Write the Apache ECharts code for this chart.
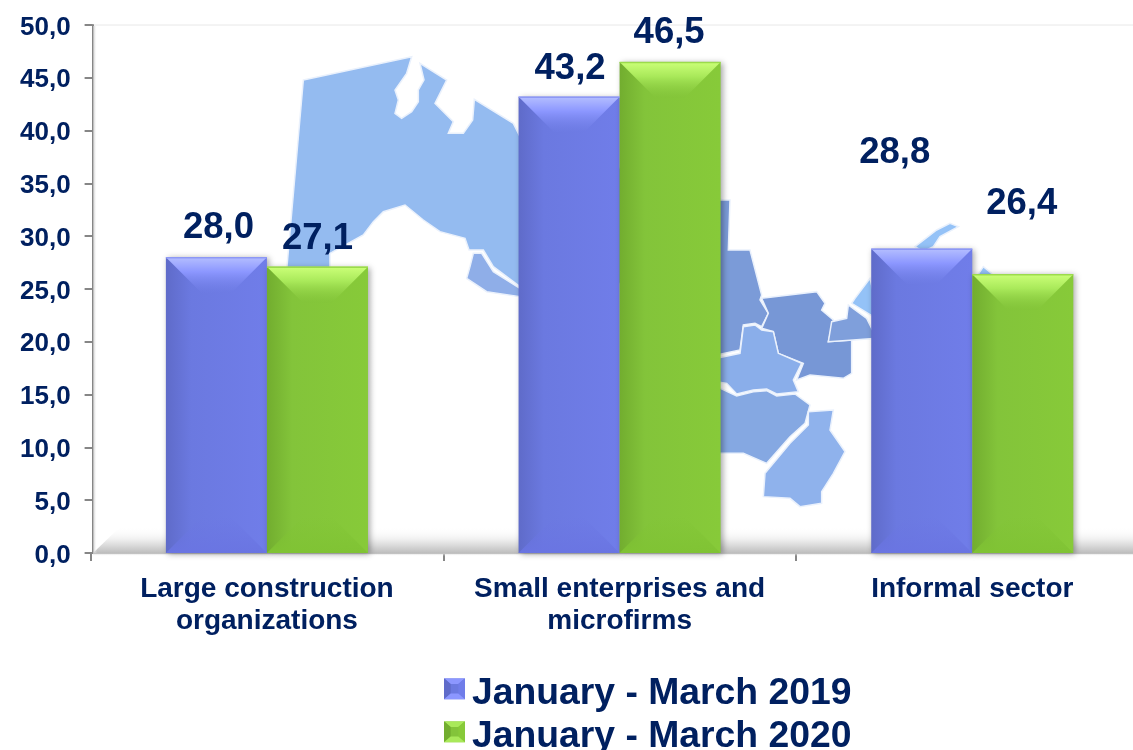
<!DOCTYPE html>
<html><head><meta charset="utf-8">
<style>html,body{margin:0;padding:0;background:#fff}#c{width:1133px;height:750px}</style>
<script src="https://cdn.jsdelivr.net/npm/echarts@6/dist/echarts.min.js"></script>
</head><body><div id="c"></div>
<script>
const categories = ['Large construction\norganizations', 'Small enterprises and\nmicrofirms', 'Informal sector'];
const seriesNames = ['January - March 2019', 'January - March 2020'];
const values2019 = [28.0, 43.2, 28.8];
const values2020 = [27.1, 46.5, 26.4];
const labelOffsets2019 = [[2, -6], [1, -4], [-27, -72]];
const labelOffsets2020 = [[0, -4], [-1, -6], [-1, -47]];

const NAVY = '#002060';
const FONT = '"Liberation Sans", Arial, sans-serif';
const BAR_RATIO = 0.2865;
const BEVEL = 36;

const blue = {left: '#5F6BC9', mid: '#6B79E0', right: '#707DE9', top1: '#B4BEFF', top2: '#8C97FF', top3: 'rgba(108,122,226,0.3)', edge: '#8D98F5', bot: '#6A75E2', bot0: 'rgba(106,117,226,0)', icon: '#8C97FF'};
const green = {left: '#72AD2F', mid: '#83C43A', right: '#87CA39', top1: '#CBFF78', top2: '#A9E95A', top3: 'rgba(130,195,57,0.3)', edge: '#9BDB4C', bot: '#80C334', bot0: 'rgba(128,195,52,0)', icon: '#A9E95A'};

function grad(x0, y0, x1, y1, stops) {
  return {type: 'linear', x: x0, y: y0, x2: x1, y2: y1,
    colorStops: stops.map(c => ({offset: c[0], color: c[1]}))};
}
function barFill(p) { return grad(0, 0, 1, 0, [[0, p.left], [0.25, p.mid], [1, p.right]]); }

function bevelRenderer(palette, side) {
  return function (params, api) {
    const top = api.coord([api.value(0), api.value(1)]);
    const base = api.coord([api.value(0), 0]);
    const w = api.size([1, 0])[0] * BAR_RATIO;
    const x0 = side < 0 ? top[0] - w : top[0];
    const x1 = x0 + w;
    const yT = top[1], yB = base[1];
    return {type: 'group', children: [
      {type: 'polygon', shape: {points: [[x0, yT], [x1, yT], [x1 - BEVEL, yT + BEVEL], [x0 + BEVEL, yT + BEVEL]]},
        style: {fill: grad(0, 0, 0, 1, [[0, palette.top1], [0.4, palette.top2], [1, palette.top3]])}},
      {type: 'polygon', shape: {points: [[x0, yB], [x1, yB], [x1 - BEVEL, yB - BEVEL], [x0 + BEVEL, yB - BEVEL]]},
        style: {fill: grad(0, 0, 0, 1, [[0, palette.bot0], [1, palette.bot]])}},
      {type: 'line', shape: {x1: x0, y1: yT + 0.5, x2: x1, y2: yT + 0.5}, style: {stroke: palette.edge, lineWidth: 1.5}}
    ]};
  };
}

function iconUri(p) {
  const svg = `<svg xmlns="http://www.w3.org/2000/svg" width="22" height="32" viewBox="0 0 22 32"><rect width="22" height="22" fill="${p.mid}"/>` +
    `<polygon points="0,0 22,0 15,6 7,6" fill="${p.icon}"/><polygon points="22,0 22,22 15,16 15,6" fill="${p.right}"/>` +
    `<polygon points="0,0 0,22 7,16 7,6" fill="${p.left}"/><polygon points="0,22 22,22 15,16 7,16" fill="${p.icon}"/></svg>`;
  return 'image://data:image/svg+xml;charset=utf-8,' + encodeURIComponent(svg);
}

const crop1 = pts => pts.map(([x, y]) => [280 + x / 3, 40 + y / 3]);
const crop2 = pts => pts.map(([x, y]) => [710 + x / 3, 190 + y / 3]);
const mapShapes = [
  ['#94BBF0', crop1([[70,120],[395,50],[380,100],[345,150],[355,180],[345,220],[365,235],[395,215],[415,185],[415,150],[432,120],[420,70],[500,120],[465,190],[520,245],[505,280],[550,280],[578,240],[583,178],[700,250],[720,290],[1330,480],[1340,720],[720,740],[640,680],[610,630],[567,630],[555,595],[480,575],[430,540],[375,495],[310,515],[280,545],[250,585],[150,640],[150,690],[20,690]])],
  ['#8FAEE8', crop1([[580,640],[605,640],[640,695],[720,745],[720,770],[620,755],[560,715],[570,680]])],
  ['#7B9BD8', crop2([[20,30],[60,30],[55,180],[120,180],[155,315],[150,330],[175,370],[155,410],[135,400],[100,405],[90,480],[20,495]])],
  ['#7797D6', crop2([[155,325],[320,305],[345,340],[335,360],[370,390],[355,455],[425,450],[425,550],[400,565],[300,555],[260,570],[280,520],[205,490],[190,425],[155,415],[175,370]])],
  ['#7F9FDB', crop2([[365,395],[410,385],[415,345],[470,385],[500,445],[430,450],[355,455]])],
  ['#8AAEEA', crop2([[20,505],[90,490],[100,410],[135,405],[155,420],[190,425],[205,490],[275,520],[250,570],[265,605],[200,612],[170,597],[130,600],[80,612],[50,580],[20,575]])],
  ['#85A8E2', crop2([[20,590],[80,618],[130,605],[170,602],[200,618],[255,612],[300,645],[285,700],[240,740],[170,820],[100,790],[20,790]])],
  ['#8FB2EC', crop2([[295,665],[370,660],[360,720],[405,785],[370,850],[335,905],[335,940],[270,950],[240,925],[160,920],[165,850],[240,760],[295,705]])],
  ['#94C2F7', crop2([[615,170],[680,120],[720,100],[745,110],[690,140],[670,170],[640,185]])],
  ['#94C2F7', crop2([[480,265],[500,350],[490,380],[425,340],[435,325]])],
  ['#94C2F7', crop2([[800,260],[820,230],[845,250],[845,270]])]
];
const decor = mapShapes.map(([fill, points]) => ({
  type: 'polygon', z: 0, shape: {points},
  style: {fill, stroke: '#EAF1FC', lineWidth: 1.5}
}));
decor.unshift(
  {type: 'line', z: 0, shape: {x1: 93, y1: 25, x2: 1133, y2: 25}, style: {stroke: '#E8E8E8', lineWidth: 1}});
decor.push(
  {type: 'polygon', z: 1, shape: {points: [[93, 553], [120, 527], [1133, 527], [1133, 553]]},
    style: {fill: grad(0, 0, 0, 1, [[0, 'rgba(255,255,255,0)'], [0.45, 'rgba(240,240,240,0.9)'], [1, '#BDBDBD']])}},
  {type: 'rect', z: 1, shape: {x: 93, y: 553, width: 1040, height: 3},
    style: {fill: grad(0, 0, 0, 1, [[0, '#C4C4C4'], [1, 'rgba(255,255,255,0)']])}},
  {type: 'rect', z: 1, shape: {x: 93, y: 26, width: 4, height: 527},
    style: {fill: grad(0, 0, 1, 0, [[0, '#C0C0C0'], [1, 'rgba(255,255,255,0)']])}});

function barData(values, offsets) {
  return values.map((v, i) => ({value: v, label: {offset: offsets[i]}}));
}
function barSeries(name, values, offsets, palette) {
  return {
    name, type: 'bar', barWidth: (BAR_RATIO * 100) + '%', barGap: 0, z: 3,
    data: barData(values, offsets),
    itemStyle: {color: barFill(palette), shadowBlur: 6, shadowOffsetX: 2, shadowOffsetY: 1, shadowColor: 'rgba(0,0,0,0.35)'},
    label: {show: true, position: 'top', color: NAVY, fontFamily: FONT, fontWeight: 'bold', fontSize: 36.5,
      formatter: p => p.value.toFixed(1).replace('.', ',')}
  };
}
function bevelSeries(values, palette, side) {
  return {
    type: 'custom', z: 4, silent: true, encode: {x: 0, y: 1},
    renderItem: bevelRenderer(palette, side),
    data: values.map((v, i) => [i, v])
  };
}

const chart = echarts.init(document.getElementById('c'), null, {renderer: 'canvas'});
chart.setOption({
  animation: false,
  backgroundColor: '#fff',
  graphic: decor,
  grid: {left: 90.6, top: 25, width: 1058, height: 528, containLabel: false, outerBoundsMode: 'none'},
  legend: {
    orient: 'vertical', left: 444, top: 672, height: 120, padding: 0, itemWidth: 21, itemHeight: 30.5, itemGap: 0,
    data: [{name: seriesNames[0], icon: iconUri(blue)}, {name: seriesNames[1], icon: iconUri(green)}],
    textStyle: {color: NAVY, fontFamily: FONT, fontWeight: 'bold', fontSize: 37.3, lineHeight: 43, padding: [0, 0, 0, 2]},
    selectedMode: false
  },
  xAxis: {
    type: 'category', data: categories,
    axisLine: {lineStyle: {color: '#868686', width: 2}},
    axisTick: {show: true, alignWithLabel: false, length: 8, lineStyle: {color: '#868686', width: 2}},
    axisLabel: {color: NAVY, fontFamily: FONT, fontWeight: 'bold', fontSize: 28, lineHeight: 32, margin: 20, interval: 0},
    splitLine: {show: false}
  },
  yAxis: {
    type: 'value', min: 0, max: 50, interval: 5, offset: -2,
    axisLine: {show: true, lineStyle: {color: '#868686', width: 2}},
    axisTick: {show: true, length: 8, lineStyle: {color: '#868686', width: 2}},
    axisLabel: {color: NAVY, fontFamily: FONT, fontWeight: 'bold', fontSize: 26, margin: 22, verticalAlign: 'top', lineHeight: 5,
      formatter: v => v.toFixed(1).replace('.', ',')},
    splitLine: {show: false}
  },
  series: [
    barSeries(seriesNames[0], values2019, labelOffsets2019, blue),
    barSeries(seriesNames[1], values2020, labelOffsets2020, green),
    bevelSeries(values2019, blue, -1),
    bevelSeries(values2020, green, 1)
  ]
});
</script></body></html>
